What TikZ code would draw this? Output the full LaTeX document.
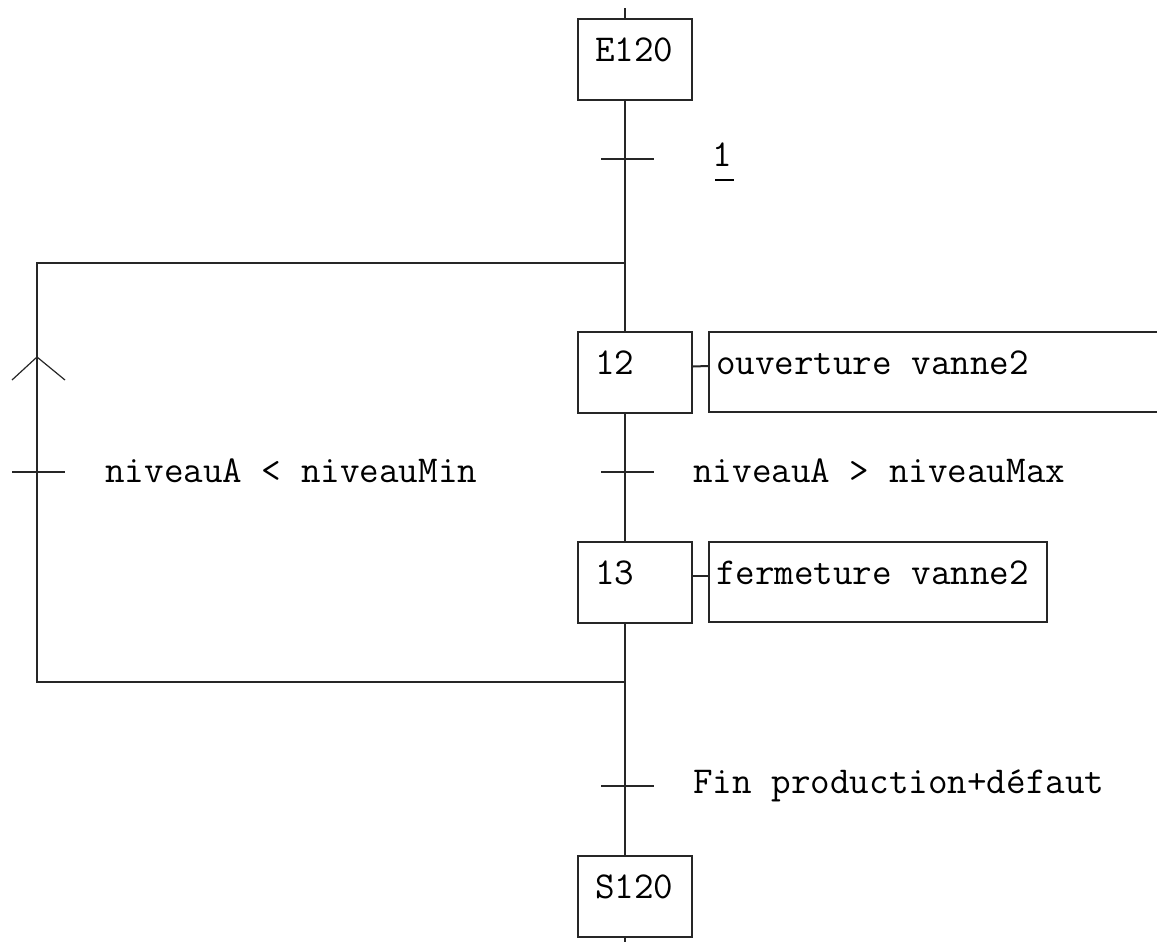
\documentclass[tikz,border=0pt]{standalone}
\usepackage{fontspec}
\usetikzlibrary{positioning}

\newcommand{\grafcetfont}{\ttfamily\fontsize{19}{21}\selectfont}

\tikzset{
	grafline/.style={line width=1pt, draw=black!85},
	etape/.style={draw=black!85, line width=1pt, minimum height=40.5pt, text width=40pt,
		inner xsep=8.5pt, inner ysep=0pt, align=flush left, text height=8pt, text depth=6pt, font=\grafcetfont},
	action/.style={draw=black!85, line width=1pt, minimum height=40pt, inner xsep=3.5pt,
		inner ysep=0pt, align=flush left, text height=8pt, text depth=6pt, font=\grafcetfont, anchor=west},
	recept/.style={anchor=base west, inner xsep=0pt, font=\grafcetfont}
}

\begin{document}
\begin{tikzpicture}[x=0.5pt,y=-0.5pt]
			\useasboundingbox (0,0) rectangle (1157,942);

			% Draw the steps
			\node[etape] (e120) at (635,59.5) {E120};
			\node[etape] (s12)  at (635,372.5) {12};
			\node[etape] (s13)  at (635,582) {13};
			\node[etape] (s120) at (635,896.5) {S120};

			% Draw the actions
			\node[action, text width=224pt] (a12) at (708,372) {ouverture vanne2};
			\node[action, text width=162pt] (a13) at (708,582) {fermeture vanne2};

			\draw[grafline] ([yshift=3pt]s12.east) -- ([yshift=3pt]a12.west);
			\draw[grafline] ([yshift=3pt]s13.east) -- ([yshift=3pt]a13.west);

			% Main line
			\coordinate (top)  at (625,8);
			\coordinate (bot)  at (625,950);
			\coordinate (div)  at (625,263);
			\coordinate (conv) at (625,682);
			\coordinate (divl) at (37,263);
			\coordinate (convl) at (37,682);

			\draw[grafline] (top) -- (e120.north -| top);
			\draw[grafline] (e120.south -| top) -- (s12.north -| top);
			\draw[grafline] (s12.south -| top) -- (s13.north -| top);
			\draw[grafline] (s13.south -| top) -- (s120.north -| top);
			\draw[grafline] (s120.south -| top) -- (bot);

			% Loop back on the left
			\draw[grafline] (conv) -- (convl) -- (divl) -- (div);
			\draw[line width=0.6pt, draw=black!85] (12,380) -- (37,357) -- (65,380);

			% Transitions
			\coordinate (t1) at (625,159);
			\coordinate (t2) at (625,472);
			\coordinate (t3) at (37,472);
			\coordinate (t4) at (625,786);

			\draw[grafline] ([xshift=-12pt]t1) -- ([xshift=14.5pt]t1);
			\draw[grafline] ([xshift=-12pt]t2) -- ([xshift=14.5pt]t2);
			\draw[grafline] ([xshift=-12.5pt]t3) -- ([xshift=14pt]t3);
			\draw[grafline] ([xshift=-12pt]t4) -- ([xshift=14.5pt]t4);

			\node[recept] (r1) at (712,166) {1};
			\draw[line width=0.8pt] (715,180) -- (734,180);
			\node[recept] (r2) at (693,482) {niveauA > niveauMax};
			\node[recept] (r3) at (105,482) {niveauA < niveauMin};
			\node[recept] (r4) at (693,793) {Fin production+défaut};
		\end{tikzpicture}
\end{document}
